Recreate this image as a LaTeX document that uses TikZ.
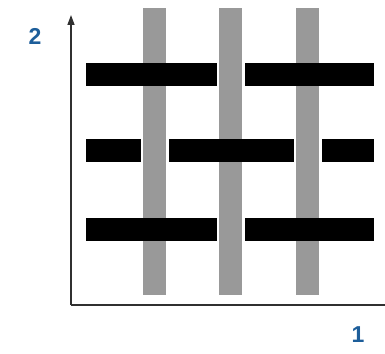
\documentclass[tikz,border=0pt]{standalone}
\usepackage{fontspec}
\setmainfont{Liberation Sans}
\usetikzlibrary{arrows.meta}
\definecolor{warp}{HTML}{999999}
\definecolor{lbl}{HTML}{1D5E9A}
\definecolor{axis}{HTML}{303030}
\tikzset{
  warpbar/.style={fill=warp, draw=none},
  weftbar/.style={fill=black, draw=none},
  gapbox/.style={fill=white, draw=none},
  axisline/.style={draw=axis, line width=1.4pt},
  axislabel/.style={text=lbl, font=\bfseries\fontsize{23}{23}\selectfont, inner sep=0pt}
}
\begin{document}
\begin{tikzpicture}[x=1pt, y=-1pt]
\useasboundingbox (0,0) rectangle (385,353);
% warp (gray vertical)
\foreach \xa in {143,219,296} {
  \fill[warpbar] (\xa,8) rectangle (\xa+23,295);
}
% weft (black horizontal)
\foreach \ya in {63,139,218} {
  \fill[weftbar] (86,\ya) rectangle (374,\ya+23);
}
% warp over weft crossings
\foreach \xa/\ya in {219/63, 143/139, 296/139, 219/218} {
  \fill[gapbox] (\xa-2.5,\ya) rectangle (\xa+25.5,\ya+23);
  \fill[warpbar] (\xa,\ya-1) rectangle (\xa+23,\ya+24);
}
% axes
\coordinate (o) at (71,305);
\coordinate (ytop) at (71,15);
\coordinate (xend) at (385,305);
\draw[axisline, -{Triangle[length=10pt,width=7pt]}] (o) -- (ytop);
\draw[axisline] (o) -- (xend);
\node[axislabel] (l2) at (35,36) {2};
\node[axislabel] (l1) at (358,335) {1};
\end{tikzpicture}
\end{document}
